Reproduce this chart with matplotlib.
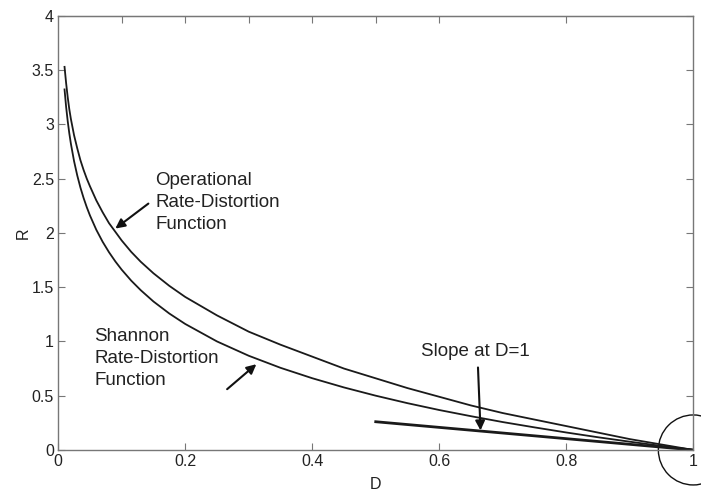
import matplotlib
matplotlib.use("Agg")
import matplotlib.pyplot as plt
from matplotlib.patches import Ellipse

plt.rcParams['font.family'] = ['Liberation Sans', 'DejaVu Sans']

D = [0.01, 0.0125, 0.015, 0.0175, 0.02, 0.025, 0.03, 0.035, 0.04, 0.045, 0.05,
     0.06, 0.07, 0.08, 0.09, 0.1, 0.115, 0.13, 0.15, 0.175, 0.2, 0.25, 0.3, 0.35,
     0.4, 0.45, 0.5, 0.55, 0.6, 0.65, 0.7, 0.75, 0.8, 0.85, 0.9, 0.95, 1.0]
R_shannon = [3.322, 3.161, 3.030, 2.918, 2.822, 2.661, 2.530, 2.418, 2.322, 2.237, 2.161,
             2.029, 1.918, 1.822, 1.737, 1.661, 1.560, 1.472, 1.368, 1.257, 1.161, 1.000,
             0.868, 0.757, 0.661, 0.576, 0.500, 0.431, 0.368, 0.311, 0.257, 0.208, 0.161,
             0.117, 0.076, 0.037, 0.0]
R_oper = [3.53, 3.38, 3.25, 3.14, 3.05, 2.90, 2.78, 2.67, 2.58, 2.50, 2.43,
          2.30, 2.19, 2.09, 2.01, 1.93, 1.825, 1.734, 1.628, 1.512, 1.41, 1.24,
          1.09, 0.97, 0.86, 0.75, 0.66, 0.57, 0.49, 0.41, 0.34, 0.28, 0.22,
          0.16, 0.10, 0.05, 0.0]
slope_D = [0.5, 1.0]
slope_R = [0.26, 0.0]

xticks = [0, 0.2, 0.4, 0.6, 0.8, 1.0]
xticklabels = ['0', '0.2', '0.4', '0.6', '0.8', '1']
top_ticks = [0.1, 0.2, 0.3, 0.4, 0.5, 0.6, 0.8]
yticks = [0, 0.5, 1, 1.5, 2, 2.5, 3, 3.5, 4]
yticklabels = ['0', '0.5', '1', '1.5', '2', '2.5', '3', '3.5', '4']

fig = plt.figure(figsize=(7.01, 4.95), dpi=100)
ax = fig.add_axes([0.083, 0.091, 0.906, 0.877])

ax.plot(D, R_shannon, color='#1a1a1a', lw=1.3)
ax.plot(D, R_oper, color='#1a1a1a', lw=1.3)
ax.plot(slope_D, slope_R, color='#1a1a1a', lw=2.0)

ax.set_xlim(0, 1)
ax.set_ylim(0, 4)
ax.set_xticks(xticks)
ax.set_xticklabels(xticklabels)
ax.set_yticks(yticks)
ax.set_yticklabels(yticklabels)

axc = '#777777'
for s in ax.spines.values():
    s.set_color(axc)
    s.set_linewidth(1.0)
ax.tick_params(direction='in', length=5, color=axc, labelsize=11.5,
               labelcolor='#222222', right=True, pad=3)
top = ax.secondary_xaxis('top')
top.set_xticks(top_ticks)
top.set_xticklabels([])
top.tick_params(direction='in', length=5, color=axc)
top.spines['top'].set_color(axc)

ax.set_xlabel('D', fontsize=11.5, color='#222222', labelpad=6)
ax.set_ylabel('R', fontsize=11.5, color='#222222', labelpad=1)

fs = 13.5
tc = '#222222'
ax.text(0.153, 2.28, 'Operational\nRate-Distortion\nFunction', fontsize=fs, color=tc,
        ha='left', va='center', linespacing=1.38)
ax.annotate('', xy=(0.09, 2.04), xytext=(0.142, 2.27),
            arrowprops=dict(arrowstyle='-|>', color='#111111', lw=1.5,
                            mutation_scale=14, shrinkA=0, shrinkB=0))
ax.text(0.057, 0.84, 'Shannon\nRate-Distortion\nFunction', fontsize=fs, color=tc,
        ha='left', va='center', linespacing=1.38)
ax.annotate('', xy=(0.312, 0.79), xytext=(0.266, 0.56),
            arrowprops=dict(arrowstyle='-|>', color='#111111', lw=1.5,
                            mutation_scale=14, shrinkA=0, shrinkB=0))
ax.text(0.657, 0.91, 'Slope at D=1', fontsize=fs, color=tc, ha='center', va='center')
ax.annotate('', xy=(0.665, 0.18), xytext=(0.661, 0.76),
            arrowprops=dict(arrowstyle='-|>', color='#111111', lw=1.5,
                            mutation_scale=14, shrinkA=0, shrinkB=0))

circ = Ellipse((1.0, 0.0), width=0.11, height=0.645, fill=False,
               edgecolor='#111111', lw=1.0, clip_on=False)
ax.add_patch(circ)

fig.savefig('out.png', dpi=100)
